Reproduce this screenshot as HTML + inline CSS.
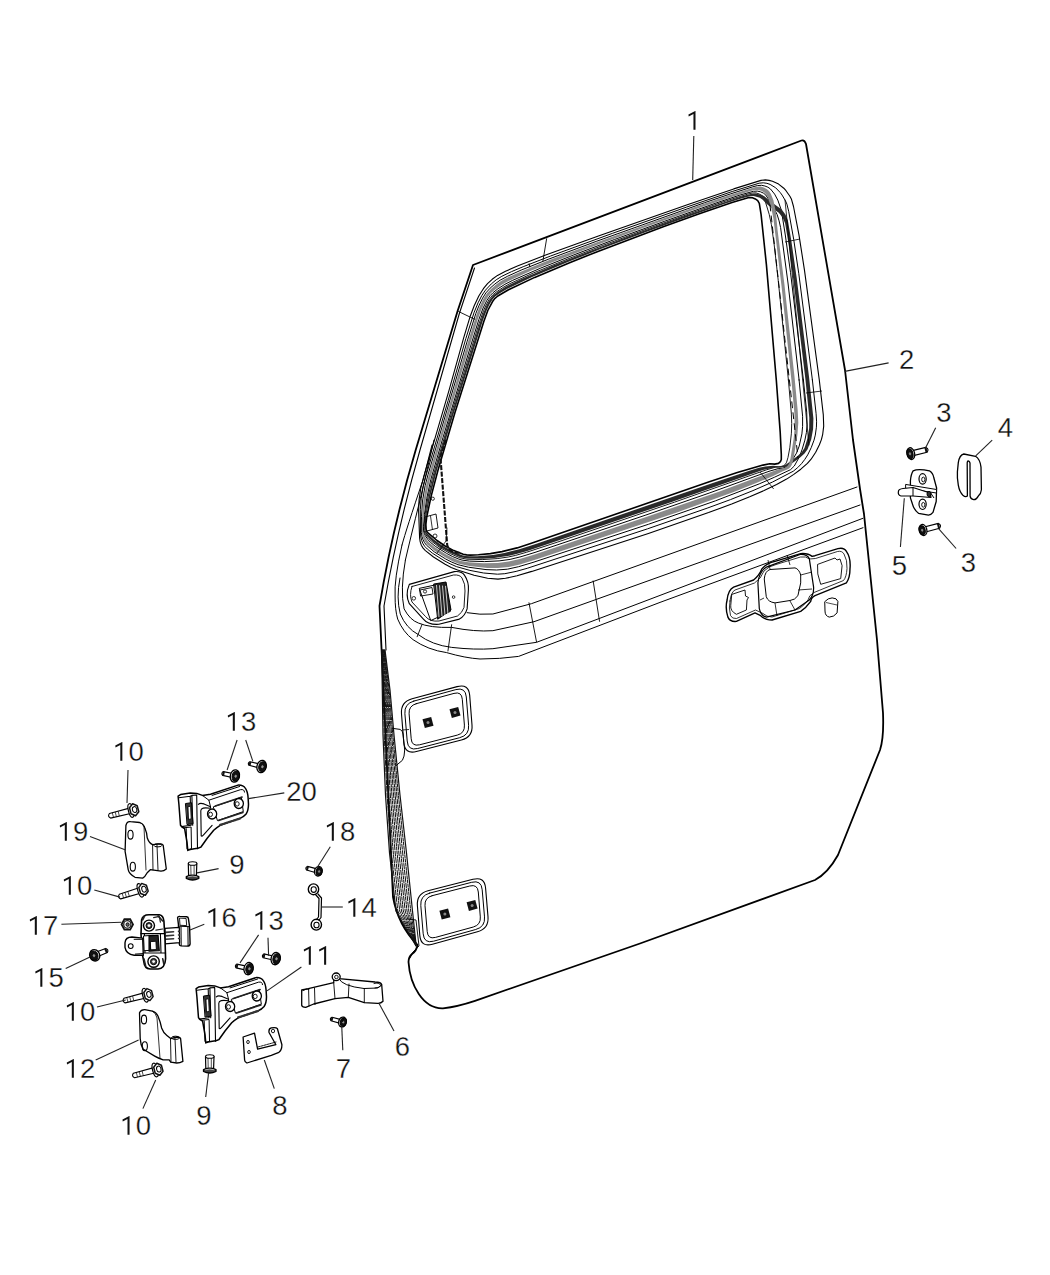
<!DOCTYPE html>
<html><head><meta charset="utf-8"><style>
html,body{margin:0;padding:0;background:#fff;}
svg{display:block;}
text{font-family:"Liberation Sans",sans-serif;fill:#111;stroke:#fff;stroke-width:0.3px;}
</style></head><body>
<svg width="1050" height="1275" viewBox="0 0 1050 1275">
<path d="M473,265 L801.5,140.5 Q804.5,139.5 806,144 L845,370 L853,440 L860,489 L864,514 L877,640 L883,713 Q884,738 880,750 L838,855 Q828,873 815,880 L640,943.5 L475,1000.8 Q458,1006.5 443,1008.3 C423,1009 410,985 408.5,962 Q408.5,957 412,954 Q416.5,951 417.5,945 Q398,925 393,897 L381.6,650 L379.5,606 Q392,530 415.7,450 L457.6,311 Z" stroke="#000" stroke-width="1.8" fill="none" stroke-linejoin="round" stroke-linecap="round" />
<path d="M474.5,268 L459.5,313 L420,450 Q397,530 384,606 L386,650" stroke="#000" stroke-width="1.1" fill="none" stroke-linejoin="round" stroke-linecap="round" />
<line x1="458.3" y1="311.4" x2="475.8" y2="319.8" stroke="#000" stroke-width="0.9"/>
<path d="M776.3,380.0 L780.2,432.1 L781.3,454.4 L781.3,459.5 L780.4,461.7 L778.5,463.4 L774.8,464.1 L769.7,463.8 L763.0,465.1 L737.3,472.5 L709.3,481.8 L531.4,543.3 L517.1,547.9 L502.0,551.6 L490.4,553.6 L478.4,554.8 L470.4,555.1 L466.6,554.9 L463.2,554.2 L453.8,550.6 L445.1,546.0 L437.0,540.5 L427.1,532.1 L425.9,529.0 L425.8,525.0 L426.8,516.5 L431.3,495.6 L438.1,469.7 L454.9,412.8 L483.8,321.5 L487.8,310.5 L492.4,301.8 L494.7,298.6 L497.8,296.0 L508.5,289.7 L534.7,277.4 L569.6,262.7 L597.9,251.4 L663.2,226.7 L699.3,213.7 L732.0,202.5 L748.9,197.6 L752.5,197.7 L755.3,198.9 L757.7,200.6 L759.3,203.3 L761.1,214.7 L766.4,264.6 L776.3,380.0Z" stroke="#000" stroke-width="1.6" fill="none" stroke-linejoin="round" stroke-linecap="round" />
<path d="M788.4,380.0 L791.4,414.1 L791.7,423.6 L791.4,433.2 L789.8,447.8 L788.0,457.4 L786.6,462.2 L785.4,464.3 L783.3,465.9 L780.0,466.9 L775.6,467.1 L766.5,469.8 L674.4,502.2 L557.8,542.0 L526.4,552.3 L515.6,555.4 L508.3,557.0 L497.2,558.6 L482.2,559.6 L467.0,559.2 L459.9,557.8 L450.7,553.8 L439.2,547.1 L431.4,541.1 L429.0,538.8 L425.1,533.7 L424.1,530.3 L424.1,526.3 L425.2,513.9 L427.9,497.7 L432.3,478.8 L451.4,413.5 L479.0,323.7 L483.6,310.5 L486.1,305.0 L489.0,299.7 L492.7,294.9 L495.9,292.3 L502.8,287.6 L510.0,283.6 L533.3,273.0 L568.0,258.9 L602.3,245.6 L648.1,228.6 L701.3,209.5 L726.6,200.7 L747.8,194.1 L752.2,193.0 L756.0,192.9 L759.0,193.9 L761.7,195.4 L763.8,197.6 L765.1,200.8 L769.2,214.3 L771.4,224.6 L774.2,244.8 L778.2,280.2 L788.4,380.0Z" stroke="#000" stroke-width="0.9" fill="none" stroke-linejoin="round" stroke-linecap="round" />
<path d="M799.1,380.0 L802.6,416.3 L802.6,426.4 L801.9,433.9 L799.2,446.1 L796.5,453.1 L790.0,463.8 L788.2,465.7 L785.8,467.2 L782.5,468.2 L778.2,468.6 L769.0,471.3 L709.1,493.1 L645.1,515.3 L535.0,552.4 L521.0,556.7 L510.1,559.4 L499.1,560.9 L484.4,561.6 L469.4,561.1 L462.1,560.1 L458.8,559.1 L452.5,556.5 L446.6,553.4 L435.3,546.3 L430.2,542.1 L428.0,539.7 L424.3,534.3 L423.5,530.8 L423.4,526.8 L424.4,514.5 L426.7,498.5 L430.8,479.5 L443.0,437.5 L470.0,348.1 L478.9,319.4 L483.1,308.0 L486.7,300.7 L490.1,295.6 L493.0,292.7 L497.9,288.8 L504.9,284.3 L512.3,280.5 L540.9,268.0 L573.9,254.9 L614.5,239.5 L664.8,221.2 L716.1,203.0 L740.1,195.0 L753.4,191.3 L757.3,191.1 L760.5,191.8 L763.4,193.1 L765.8,195.0 L772.7,205.9 L777.1,214.5 L779.1,220.9 L780.6,227.6 L788.0,283.0 L799.1,380.0Z" stroke="#000" stroke-width="1.0" fill="none" stroke-linejoin="round" stroke-linecap="round" />
<path d="M803.4,380.0 L806.7,412.1 L807.1,424.9 L806.4,432.6 L804.9,440.1 L802.0,449.8 L799.3,457.0 L794.3,466.0 L790.5,469.7 L774.3,477.3 L759.2,483.9 L715.3,500.9 L648.7,524.2 L533.0,562.4 L518.6,566.7 L507.4,569.2 L496.6,570.0 L486.0,569.6 L468.4,567.2 L458.1,564.7 L451.7,562.1 L445.7,559.0 L434.2,551.8 L426.5,545.2 L424.5,542.6 L423.0,539.6 L421.9,536.2 L421.4,532.4 L421.5,516.4 L422.5,501.0 L425.1,485.8 L428.0,474.7 L467.2,341.2 L475.8,313.5 L478.9,305.8 L482.6,298.2 L485.9,292.9 L490.1,288.2 L494.9,284.0 L500.1,280.2 L507.7,276.2 L521.1,270.1 L548.2,259.3 L596.2,241.4 L704.6,202.7 L730.8,193.8 L752.8,186.8 L757.4,185.6 L761.5,185.3 L764.9,186.0 L767.9,187.2 L770.5,189.0 L774.6,194.1 L777.8,200.1 L781.3,210.0 L785.3,235.0 L790.5,272.4 L803.4,380.0Z" stroke="#000" stroke-width="1.0" fill="none" stroke-linejoin="round" stroke-linecap="round" />
<path d="M812.4,380.0 L816.1,413.7 L816.6,421.8 L816.4,427.2 L815.3,435.1 L814.0,440.2 L811.2,447.7 L807.7,454.9 L804.8,459.4 L801.5,463.7 L797.7,467.6 L793.3,471.2 L772.6,482.0 L753.0,490.6 L730.5,499.6 L707.9,507.9 L647.6,528.8 L527.2,568.3 L516.1,571.4 L504.8,573.7 L497.5,574.2 L483.6,573.0 L469.9,570.4 L456.4,566.6 L450.1,563.8 L444.0,560.6 L432.6,553.3 L427.3,549.0 L424.9,546.6 L423.0,543.8 L421.7,540.6 L420.8,537.0 L420.5,533.1 L420.3,509.7 L421.2,498.3 L423.1,486.9 L426.0,475.7 L448.2,400.3 L465.8,338.7 L474.0,312.7 L478.0,302.9 L481.9,295.4 L485.5,290.1 L491.3,283.9 L496.2,279.8 L501.8,276.3 L511.6,271.6 L523.2,266.7 L550.6,256.0 L612.3,233.4 L686.3,207.2 L732.2,191.5 L759.1,183.2 L763.3,182.8 L766.9,183.3 L770.1,184.4 L775.7,187.8 L780.2,192.5 L782.1,195.1 L785.5,200.9 L786.9,204.1 L788.7,211.3 L793.7,239.3 L798.8,273.7 L812.4,380.0Z" stroke="#000" stroke-width="1.0" fill="none" stroke-linejoin="round" stroke-linecap="round" />
<path d="M819.3,380.0 L823.3,414.9 L823.7,426.1 L822.7,434.3 L821.4,439.6 L819.4,444.8 L815.7,452.2 L811.1,459.2 L807.4,463.4 L800.8,469.2 L793.8,474.4 L786.6,479.1 L776.6,484.6 L764.1,490.6 L749.7,496.8 L731.7,504.0 L708.6,512.6 L648.4,533.4 L531.8,571.4 L517.0,575.8 L505.5,578.3 L498.0,579.1 L487.6,578.2 L474.1,575.3 L457.6,570.1 L451.2,567.4 L445.1,564.3 L433.5,557.0 L425.4,550.6 L423.1,548.1 L421.3,545.2 L420.2,541.8 L419.6,538.0 L418.6,510.8 L419.1,499.5 L420.8,488.1 L423.7,476.8 L448.8,391.2 L463.6,338.1 L470.4,315.7 L474.2,305.7 L478.8,296.0 L483.4,288.7 L487.5,283.7 L492.2,279.3 L497.5,275.4 L505.5,271.3 L517.4,266.1 L545.7,255.1 L599.1,235.8 L687.3,204.7 L733.7,188.9 L761.0,180.4 L765.3,179.9 L769.1,180.4 L772.5,181.3 L778.6,184.1 L783.8,188.2 L786.0,190.7 L789.9,196.2 L791.5,199.3 L793.5,206.5 L799.0,235.1 L804.5,270.3 L819.3,380.0Z" stroke="#000" stroke-width="1.1" fill="none" stroke-linejoin="round" stroke-linecap="round" />
<path d="M805.5,380.0 L809.3,417.7 L809.2,428.0 L807.5,438.2 L804.5,448.1 L801.5,452.4 L797.3,456.2 L786.0,464.6 L782.9,465.7 L778.7,466.2 L773.1,465.8 L765.3,466.4 L759.1,467.8 L748.7,471.0 L712.8,483.0 L536.6,543.7 L519.3,549.3 L504.4,553.0 L492.9,554.9 L477.3,556.2 L469.4,556.3 L465.6,556.0 L462.2,555.2 L452.9,551.5 L441.4,545.1 L433.5,539.3 L426.5,532.6 L425.3,529.4 L425.3,525.4 L426.9,512.7 L430.3,496.3 L436.9,470.3 L450.0,425.6 L482.7,321.0 L486.1,311.7 L489.4,304.6 L492.5,299.6 L495.1,296.6 L500.2,293.0 L507.4,288.8 L532.1,277.1 L569.1,261.6 L599.3,249.6 L645.4,232.2 L684.7,217.9 L724.8,203.8 L741.2,198.6 L749.9,196.2 L753.7,196.0 L759.8,197.8 L762.4,199.4 L766.6,203.8 L768.9,205.7 L778.8,212.7 L782.6,217.4 L785.1,223.3 L788.5,243.6 L793.4,279.9 L805.5,380.0Z M809.1,377.5 L796.7,278.0 L791.4,241.2 L787.9,220.6 L785.4,214.6 L781.7,209.6 L769.2,200.5 L764.7,196.5 L762.0,195.0 L755.6,193.4 L751.7,193.7 L742.9,196.0 L726.3,201.4 L682.7,216.6 L631.4,235.3 L587.5,251.9 L553.7,265.2 L521.5,278.9 L505.2,287.0 L498.1,291.5 L493.2,295.3 L489.5,300.0 L486.6,305.3 L482.7,314.5 L479.5,324.0 L448.0,426.1 L433.8,474.9 L428.4,497.4 L425.6,513.6 L424.3,526.1 L424.4,530.1 L425.4,533.4 L429.5,538.5 L431.8,540.7 L439.6,546.7 L451.1,553.3 L460.4,557.2 L467.5,558.6 L482.8,558.8 L494.2,558.0 L509.1,555.8 L516.4,554.1 L527.2,551.0 L558.3,540.6 L672.3,501.7 L762.8,470.1 L772.3,467.9 L776.2,467.5 L781.3,467.6 L785.3,467.0 L788.3,465.7 L790.7,464.2 L800.1,457.4 L804.5,453.6 L807.6,449.2 L811.2,439.4 L813.1,429.0 L813.4,418.5 L809.1,377.5Z" fill="#2a2a2a" fill-rule="evenodd" stroke="none"/>
<path d="M791.4,380.0 L794.5,414.7 L794.6,429.2 L793.6,438.9 L790.5,458.6 L789.1,463.4 L787.8,465.5 L785.8,467.2 L782.8,468.4 L779.0,469.0 L720.2,491.2 L645.4,517.3 L533.8,554.8 L519.7,559.0 L508.7,561.6 L497.8,562.9 L483.2,563.2 L468.4,562.2 L461.2,561.0 L457.9,560.0 L451.7,557.3 L445.7,554.3 L434.5,547.0 L429.4,542.7 L427.2,540.3 L423.8,534.7 L423.0,531.1 L423.0,527.1 L424.2,510.8 L426.5,495.1 L429.8,480.1 L442.0,437.8 L470.2,344.0 L477.9,319.0 L481.4,309.4 L484.9,302.0 L488.0,296.7 L490.5,293.5 L495.2,289.4 L502.1,284.5 L507.6,281.4 L531.4,270.6 L562.0,258.4 L600.3,243.8 L648.5,226.1 L702.6,206.8 L728.3,198.0 L749.8,191.2 L754.2,190.1 L758.1,189.9 L761.3,190.8 L764.0,192.3 L766.2,194.5 L767.8,197.5 L771.2,207.6 L773.4,218.4 L781.6,286.7 L791.4,380.0Z M794.6,377.7 L784.5,285.0 L777.6,230.5 L775.8,211.4 L773.4,200.3 L770.8,193.8 L769.0,191.0 L766.7,188.9 L763.8,187.4 L760.5,186.6 L756.5,186.8 L752.0,188.0 L730.1,194.9 L704.0,203.8 L596.4,242.4 L548.8,260.3 L520.1,271.9 L508.7,277.1 L501.1,281.1 L495.9,284.8 L491.1,288.9 L486.8,293.5 L483.4,298.8 L479.8,306.2 L476.7,314.0 L468.1,341.4 L429.0,474.2 L426.2,485.3 L423.4,500.5 L421.9,520.0 L421.8,532.1 L422.4,535.8 L423.6,539.0 L425.2,542.0 L427.3,544.6 L435.0,551.0 L446.5,558.1 L452.5,561.2 L458.9,563.7 L469.4,565.9 L487.2,567.9 L497.9,568.0 L508.8,567.0 L519.9,564.4 L537.5,559.0 L676.9,512.4 L732.4,492.4 L755.0,483.6 L772.6,476.3 L782.8,471.2 L786.0,470.1 L788.6,468.7 L790.5,466.9 L791.8,464.7 L793.3,459.9 L797.4,435.1 L798.3,422.8 L797.7,410.5 L794.6,377.7Z" fill="#8a8a8a" fill-rule="evenodd" stroke="none"/>
<path d="M445.7,440 L440.4,456.8 L447.2,545 Q449,553 461,552.8" stroke="#111" stroke-width="2.1" fill="none" stroke-linejoin="round" stroke-dasharray="5 1.5" stroke-linecap="butt"/>
<path d="M770,205 L798,458" stroke="#000" stroke-width="1.0" fill="none" stroke-linejoin="round" stroke-linecap="round" stroke-dasharray="6 5"/>
<path d="M785,200 L809,445" stroke="#000" stroke-width="0.8" fill="none" stroke-linejoin="round" stroke-linecap="round" />
<line x1="546.7" y1="238.3" x2="542.9" y2="261.1" stroke="#000" stroke-width="0.9"/>
<line x1="529.1" y1="263.4" x2="529.9" y2="267.2" stroke="#000" stroke-width="0.9"/>
<line x1="785" y1="242" x2="800" y2="239" stroke="#000" stroke-width="0.8"/>
<line x1="806" y1="393" x2="822" y2="391" stroke="#000" stroke-width="0.8"/>
<line x1="760" y1="472" x2="773.7" y2="489" stroke="#000" stroke-width="0.8"/>
<path d="M425,517 L436,514 L438,528 L427,531 Z" stroke="#000" stroke-width="0.9" fill="none" stroke-linejoin="round" stroke-linecap="round" />
<line x1="430.5" y1="516" x2="432.5" y2="530" stroke="#000" stroke-width="0.8"/>
<circle cx="432.8" cy="498.7" r="1.6" fill="none" stroke="#000" stroke-width="0.8"/>
<circle cx="435" cy="536" r="2" fill="none" stroke="#000" stroke-width="0.8"/>
<path d="M437,553 L446,541 L447,528" stroke="#000" stroke-width="0.8" fill="none" stroke-linejoin="round" stroke-linecap="round" />
<path d="M467.1,612.7 Q480,615 492.9,614 L531.4,603.7 L857,487" stroke="#000" stroke-width="1.0" fill="none" stroke-linejoin="round" stroke-linecap="round" />
<path d="M405.4,560 Q400,590 404.1,608.9 Q410,620 418.3,623 Q430,628 451.7,627.4 Q475,632 492.9,630.7 L534,621.7 L860,505" stroke="#000" stroke-width="1.0" fill="none" stroke-linejoin="round" stroke-linecap="round" />
<path d="M400,578 Q396,598 400.3,614 Q406,628 418.3,634.6 Q432,645 451.7,647.4 Q475,650 492.9,648.7 L536.6,642.3 L862.9,518.3" stroke="#000" stroke-width="1.0" fill="none" stroke-linejoin="round" stroke-linecap="round" />
<path d="M402,545 Q394,580 395.1,596 Q395,610 397.7,619.1 Q403,632 413.1,639.7 Q428,650 446.6,652.6 Q465,658 480,659 Q500,659 518.6,656.4 L660,602.4 L863,527.7" stroke="#000" stroke-width="1.0" fill="none" stroke-linejoin="round" stroke-linecap="round" />
<line x1="528.9" y1="602.4" x2="536.6" y2="642.3" stroke="#000" stroke-width="0.9"/>
<line x1="593.1" y1="580.6" x2="599.6" y2="621.7" stroke="#000" stroke-width="0.9"/>
<line x1="451.7" y1="624.3" x2="447.9" y2="651.3" stroke="#000" stroke-width="0.9"/>
<line x1="422.1" y1="624.3" x2="417" y2="637.1" stroke="#000" stroke-width="0.9"/>
<path d="M434,440 L420,500 Q410,540 405.4,560" stroke="#000" stroke-width="1.0" fill="none" stroke-linejoin="round" stroke-linecap="round" />
<path d="M432,445 L423,480 Q406,530 402,545" stroke="#000" stroke-width="1.0" fill="none" stroke-linejoin="round" stroke-linecap="round" />
<path d="M409.3,584.4 L454.3,571.6 Q462,571 464.6,575.4 Q469,582 468.4,590 L467.1,608.9 Q465,616 459.4,619.1 L438.9,624.3 Q428,625 423.4,619.1 L409.3,603.7 Q405,595 409.3,584.4Z" stroke="#000" stroke-width="1.1" fill="none" stroke-linejoin="round" stroke-linecap="round" />
<path d="M412,586.5 L453.5,575 Q460,574.5 462,578 Q465.5,584 465,591 L464,607.5 Q462,613 457.5,616 L439,621 Q430,622 425.5,616.5 L412,602 Q409,595 412,586.5Z" stroke="#000" stroke-width="0.9" fill="none" stroke-linejoin="round" stroke-linecap="round" />
<path d="M419.6,588.3 L444,583.1 L450.4,611.4 L431.1,620.4 Z" stroke="#000" stroke-width="1.0" fill="none" stroke-linejoin="round" stroke-linecap="round" />
<path d="M434,584 L446,582 L451,610 L438,619 Z" stroke="#000" stroke-width="1.0" fill="#222" stroke-linejoin="round" stroke-linecap="round" />
<line x1="436.5" y1="585.0" x2="439.0" y2="617.0" stroke="#ddd" stroke-width="0.9"/>
<line x1="439.5" y1="585.3" x2="442.0" y2="616.2" stroke="#ddd" stroke-width="0.9"/>
<line x1="442.5" y1="585.6" x2="445.0" y2="615.4" stroke="#ddd" stroke-width="0.9"/>
<line x1="445.5" y1="585.9" x2="448.0" y2="614.6" stroke="#ddd" stroke-width="0.9"/>
<path d="M420,590 L432,587.5 L433,594 L421,596 Z" stroke="#000" stroke-width="0.9" fill="none" stroke-linejoin="round" stroke-linecap="round" />
<circle cx="425" cy="591.5" r="1.6" fill="none" stroke="#000" stroke-width="0.8"/>
<circle cx="413.8" cy="598.3" r="1.8" fill="none" stroke="#000" stroke-width="0.8"/>
<circle cx="453.6" cy="597.1" r="1.3" fill="none" stroke="#000" stroke-width="0.8"/>
<path d="M727.1,600 Q728,590 733.6,587.1 L753.6,580 Q759,576 762.1,568.6 Q767,563 775,561.4 L800.7,553.6 Q808,553 812.1,556.4 L815,555.7 L837.9,548.6 Q844,547 846.4,551.4 Q851,558 850,568.6 Q850,578 846.4,582.9 L815,595.7 Q811,598 810.7,601.4 Q806,608 800.7,611.4 L772.1,620 Q765,620 760.7,615.7 L755,612.9 L736.4,621.4 Q730,622 727.9,617.1 Q725,608 727.1,600Z" stroke="#000" stroke-width="1.4" fill="none" stroke-linejoin="round" stroke-linecap="round" />
<path d="M730,601 Q731,592 735,590 L754.5,583 Q761,579 764,571 Q769,566 776,564.5 L800.5,557 Q806,556 809.5,559 L815.5,558.5 L837.5,551.5 Q842,550.5 844,554 Q847.5,560 847,568.5 Q846.5,577 843.5,580.5 L814,592.5 Q808.5,595.5 808,600 Q804,605.5 799.5,608.5 L772,617 Q766.5,617 763,613.5 L755.5,610 L736.5,618.5 Q732,619 730.5,615.5 Q728.5,608 730,601Z" stroke="#000" stroke-width="0.8" fill="none" stroke-linejoin="round" stroke-linecap="round" />
<path d="M757.9,582.9 Q759,572 766.4,567.1 L800.7,554.3 Q807,554 809.3,558.6 L813.6,587.1 Q814,595 809.3,600 L795,610 L766.4,617.1 Q761,616 759.3,608.6 Z" stroke="#000" stroke-width="1.2" fill="none" stroke-linejoin="round" stroke-linecap="round" />
<path d="M764.3,578.6 Q765,571 770,569.5 L795,567.9 Q799,569 800.7,575 L800.7,582.9 L797.9,595.7 Q795,600 790,600.5 L775,602.9 Q768,602 766.4,597.1 Z" stroke="#000" stroke-width="1.0" fill="none" stroke-linejoin="round" stroke-linecap="round" />
<line x1="770" y1="569" x2="768" y2="560" stroke="#000" stroke-width="0.8"/>
<line x1="790" y1="565" x2="787" y2="555" stroke="#000" stroke-width="0.8"/>
<line x1="800.7" y1="575" x2="812" y2="572" stroke="#000" stroke-width="0.8"/>
<line x1="798" y1="590" x2="812" y2="589" stroke="#000" stroke-width="0.8"/>
<line x1="790" y1="601" x2="795" y2="610" stroke="#000" stroke-width="0.8"/>
<line x1="775" y1="603" x2="777" y2="616" stroke="#000" stroke-width="0.8"/>
<line x1="764" y1="598" x2="760" y2="600" stroke="#000" stroke-width="0.8"/>
<path d="M732.1,594.3 L745,590 L745.5,596 L748.5,597.5 L747,600 L746.4,610 L736.4,614.3 Q730,611 730.7,605.7 Z" stroke="#000" stroke-width="0.9" fill="none" stroke-linejoin="round" stroke-linecap="round" />
<path d="M817.9,564.3 L835,558 L837,560 L840,559 L842.1,565.7 L840.7,578.6 L820.7,584.3 L817.9,574.3 Z" stroke="#000" stroke-width="0.9" fill="none" stroke-linejoin="round" stroke-linecap="round" />
<path d="M825,601.4 Q828,598 832.1,597.9 Q837,598 837.9,601.4 L837.1,612.9 Q834,617 829.3,617.1 Q825,616 825,611.4 Z" stroke="#000" stroke-width="1.0" fill="none" stroke-linejoin="round" stroke-linecap="round" />
<line x1="826" y1="602.5" x2="837" y2="605" stroke="#000" stroke-width="0.7"/>
<path d="M381.6,650.0 382.3,690.0 383.0,735.0 385.5,795.0 389.5,853.0 396.0,911.0 416.0,946.0" stroke="#111" stroke-width="1.2" fill="none" stroke-linejoin="round" stroke-linecap="round" />
<path d="M382.0,650.0 383.2,690.0 384.2,735.0 387.1,795.0 391.4,853.0 397.8,911.0 416.0,945.8" stroke="#111" stroke-width="1.0" fill="none" stroke-linejoin="round" stroke-linecap="round" stroke-dasharray="5 1.5"/>
<path d="M382.4,650.0 384.0,690.0 385.4,735.0 388.7,795.0 393.3,853.0 399.7,911.0 416.0,945.6" stroke="#111" stroke-width="1.0" fill="none" stroke-linejoin="round" stroke-linecap="round" stroke-dasharray="3 1.2"/>
<path d="M382.7,650.0 384.9,690.0 386.7,735.0 390.3,795.0 395.2,853.0 401.5,911.0 416.0,945.3" stroke="#111" stroke-width="1.0" fill="none" stroke-linejoin="round" stroke-linecap="round" stroke-dasharray="5 1.5"/>
<path d="M383.1,650.0 385.7,690.0 387.9,735.0 391.9,795.0 397.1,853.0 403.3,911.0 416.0,945.1" stroke="#111" stroke-width="1.0" fill="none" stroke-linejoin="round" stroke-linecap="round" stroke-dasharray="3 1.2"/>
<path d="M383.5,650.0 386.6,690.0 389.1,735.0 393.6,795.0 398.9,853.0 405.2,911.0 416.0,944.9" stroke="#111" stroke-width="1.0" fill="none" stroke-linejoin="round" stroke-linecap="round" stroke-dasharray="5 1.5"/>
<path d="M383.9,650.0 387.4,690.0 390.3,735.0 395.2,795.0 400.8,853.0 407.0,911.0 416.0,944.7" stroke="#111" stroke-width="1.0" fill="none" stroke-linejoin="round" stroke-linecap="round" stroke-dasharray="3 1.2"/>
<path d="M384.2,650.0 388.3,690.0 391.6,735.0 396.8,795.0 402.7,853.0 408.8,911.0 416.0,944.4" stroke="#111" stroke-width="1.0" fill="none" stroke-linejoin="round" stroke-linecap="round" stroke-dasharray="5 1.5"/>
<path d="M384.6,650.0 389.1,690.0 392.8,735.0 398.4,795.0 404.6,853.0 410.7,911.0 416.0,944.2" stroke="#111" stroke-width="1.0" fill="none" stroke-linejoin="round" stroke-linecap="round" stroke-dasharray="3 1.2"/>
<path d="M385.0,650.0 390.0,690.0 394.0,735.0 400.0,795.0 406.5,853.0 412.5,911.0 416.0,944.0" stroke="#111" stroke-width="1.2" fill="none" stroke-linejoin="round" stroke-linecap="round" />
<path d="M412.1,698.8 L457.1,686.6 Q468.7,683.4 469.7,695.4 L472.0,725.0 Q473.0,737.0 461.4,740.0 L416.4,751.5 Q404.8,754.5 403.8,742.5 L401.5,714.0 Q400.5,702.0 412.1,698.8Z" stroke="#000" stroke-width="1.1" fill="none" stroke-linejoin="round" stroke-linecap="round" />
<path d="M413.8,701.1 L455.9,689.6 Q465.5,687.0 466.3,697.0 L468.6,725.3 Q469.4,735.2 459.7,737.7 L417.7,748.5 Q408.0,751.0 407.2,741.0 L404.9,713.7 Q404.1,703.7 413.8,701.1Z" stroke="#000" stroke-width="1.0" fill="none" stroke-linejoin="round" stroke-linecap="round" />
<path d="M416.2,703.7 L454.0,693.4 Q461.7,691.3 462.3,699.3 L464.4,725.1 Q465.0,733.1 457.3,735.1 L419.6,744.8 Q411.8,746.7 411.2,738.8 L409.1,713.8 Q408.5,705.8 416.2,703.7Z" stroke="#000" stroke-width="1.0" fill="none" stroke-linejoin="round" stroke-linecap="round" />
<rect x="423.5" y="718.0" width="9" height="9" fill="#111" transform="rotate(-15 428 722.5)"/>
<circle cx="428" cy="722.5" r="1.5" fill="#888"/>
<rect x="450.5" y="707.9" width="9" height="9" fill="#111" transform="rotate(-15 455 712.4)"/>
<circle cx="455" cy="712.4" r="1.5" fill="#888"/>
<path d="M428.0,890.8 L473.0,879.3 Q484.6,876.3 485.6,888.3 L488.0,916.6 Q489.0,928.6 477.4,931.8 L432.4,944.2 Q420.8,947.4 419.8,935.4 L417.4,905.8 Q416.4,893.8 428.0,890.8Z" stroke="#000" stroke-width="1.1" fill="none" stroke-linejoin="round" stroke-linecap="round" />
<path d="M429.7,893.1 L471.7,882.3 Q481.4,879.8 482.2,889.8 L484.5,916.9 Q485.4,926.9 475.7,929.5 L433.6,941.2 Q424.0,943.8 423.2,933.8 L420.8,905.5 Q420.0,895.6 429.7,893.1Z" stroke="#000" stroke-width="1.0" fill="none" stroke-linejoin="round" stroke-linecap="round" />
<path d="M432.1,895.7 L469.8,886.0 Q477.6,884.0 478.3,892.0 L480.3,916.9 Q481.0,924.8 473.3,927.0 L435.5,937.4 Q427.8,939.5 427.2,931.5 L425.0,905.7 Q424.4,897.7 432.1,895.7Z" stroke="#000" stroke-width="1.0" fill="none" stroke-linejoin="round" stroke-linecap="round" />
<rect x="440.4" y="909.5" width="9" height="9" fill="#111" transform="rotate(-15 444.9 914)"/>
<circle cx="444.9" cy="914" r="1.5" fill="#888"/>
<rect x="467.6" y="900.9" width="9" height="9" fill="#111" transform="rotate(-15 472.1 905.4)"/>
<circle cx="472.1" cy="905.4" r="1.5" fill="#888"/>
<path d="M392.1,728.3 L400.1,729.4 Q403,731 403,734 L404.7,750 Q404.5,757 402.4,760.3 L395.6,766" stroke="#000" stroke-width="1.0" fill="none" stroke-linejoin="round" stroke-linecap="round" />
<line x1="402" y1="730" x2="409" y2="729.5" stroke="#000" stroke-width="0.8"/>
<path d="M408,919 L416,920 L419,946 L413,952 L410,958" stroke="#000" stroke-width="0.9" fill="none" stroke-linejoin="round" stroke-linecap="round" />
<path d="M911.4,456.1 L927.1,452.2 Q929.4,449.1 925.9,447.4 L910.2,451.1" stroke="#000" stroke-width="1.1" fill="#fff" stroke-linejoin="round" stroke-linecap="round" />
<line x1="925.0" y1="450.2" x2="927.0" y2="449.7" stroke="#111" stroke-width="5.2"/>
<ellipse cx="910.8" cy="453.6" rx="3.8" ry="6.0" fill="#fff" stroke="#000" stroke-width="1.3" transform="rotate(-13.606103054249312 910.8 453.6)"/>
<ellipse cx="910.0" cy="453.8" rx="2.964" ry="4.92" fill="#111" stroke="#000" stroke-width="1.0" transform="rotate(-13.606103054249312 910.0 453.8)"/>
<ellipse cx="910.0" cy="453.8" rx="0.76" ry="1.2000000000000002" fill="#999" stroke="#999" stroke-width="0.5" transform="rotate(-13.606103054249312 910.0 453.8)"/>
<path d="M923.7,532.5 L939.6,528.2 Q941.9,525.0 938.4,523.4 L922.3,527.5" stroke="#000" stroke-width="1.1" fill="#fff" stroke-linejoin="round" stroke-linecap="round" />
<line x1="937.5" y1="526.2" x2="939.5" y2="525.7" stroke="#111" stroke-width="5.2"/>
<ellipse cx="923.0" cy="530.0" rx="3.8" ry="5.6" fill="#fff" stroke="#000" stroke-width="1.3" transform="rotate(-14.7083038996829 923.0 530.0)"/>
<ellipse cx="922.2" cy="530.2" rx="2.964" ry="4.592" fill="#111" stroke="#000" stroke-width="1.0" transform="rotate(-14.7083038996829 922.2 530.2)"/>
<ellipse cx="922.2" cy="530.2" rx="0.76" ry="1.1199999999999999" fill="#999" stroke="#999" stroke-width="0.5" transform="rotate(-14.7083038996829 922.2 530.2)"/>
<path d="M958.3,462.6 Q959.5,455 963.8,454 L975.5,456.3 Q980,459 981,467.1 L981.4,489.8 Q981,494 978.3,496.1 Q976,500 973.7,499.7 Q970.5,499 970.1,496.1 L970,463 Q969,460.5 967.8,461 Q967,462 967.2,464 L967.4,496 Q965.5,497.5 962.9,495.2 Q959.5,492 958.3,485.2 Q957,478 957.4,471.7 Z" stroke="#000" stroke-width="1.3" fill="none" stroke-linejoin="round" stroke-linecap="round" />
<path d="M913.1,470.8 Q918,468.5 929.4,470.8 Q933,473 933.9,478 L936.6,488 L936.2,501.5 L933,512.4 Q931,515 928.5,515.1 L918.5,513.3 Q914,510 912.2,503.3 L910.4,497.9 L910.4,480.7 Q911,474 913.1,470.8Z" stroke="#000" stroke-width="1.3" fill="#fff" stroke-linejoin="round" stroke-linecap="round" />
<ellipse cx="922.6" cy="478.9" rx="3.6" ry="5.2" fill="none" stroke="#000" stroke-width="1.2" transform="rotate(0 922.6 478.9)"/>
<ellipse cx="923.3" cy="479.5" rx="1.6" ry="2.4" fill="none" stroke="#000" stroke-width="0.9" transform="rotate(0 923.3 479.5)"/>
<ellipse cx="922.6" cy="504.3" rx="3.6" ry="5.2" fill="none" stroke="#000" stroke-width="1.2" transform="rotate(0 922.6 504.3)"/>
<ellipse cx="923.3" cy="504.8" rx="1.6" ry="2.4" fill="none" stroke="#000" stroke-width="0.9" transform="rotate(0 923.3 504.8)"/>
<path d="M906,484.5 L936.5,489.5 L936.5,493 L906,488.5 Z" stroke="#000" stroke-width="1.0" fill="#fff" stroke-linejoin="round" stroke-linecap="round" />
<path d="M898.5,491 Q899,489 903,488.5 L913,487.5 L930,493 L931,497.5 L913,496 L901,496 Q897.5,495 898.5,491Z" stroke="#000" stroke-width="1.2" fill="#fff" stroke-linejoin="round" stroke-linecap="round" />
<line x1="913" y1="487.5" x2="913" y2="496" stroke="#000" stroke-width="1.0"/>
<line x1="930" y1="492" x2="934" y2="498" stroke="#000" stroke-width="1.0"/>
<ellipse cx="929.0" cy="494.0" rx="2.0" ry="2.6" fill="#333" stroke="#000" stroke-width="1.0" transform="rotate(0 929.0 494.0)"/>
<path d="M131.3,807.6 L109.4,813.5 Q107.2,816.5 110.6,818.1 L132.7,813.0" stroke="#000" stroke-width="1.1" fill="#fff" stroke-linejoin="round" stroke-linecap="round" />
<line x1="112.3" y1="812.8" x2="113.5" y2="817.4" stroke="#000" stroke-width="0.7"/>
<line x1="115.2" y1="812.0" x2="116.4" y2="816.7" stroke="#000" stroke-width="0.7"/>
<line x1="118.2" y1="811.3" x2="119.3" y2="815.9" stroke="#000" stroke-width="0.7"/>
<ellipse cx="131.0" cy="810.5" rx="2.6" ry="7.0" fill="#fff" stroke="#000" stroke-width="1.2" transform="rotate(165.96375653207352 131.0 810.5)"/>
<path d="M129.5,807.7 L132.6,803.8 L137.2,805.8 L138.8,811.8 L135.6,815.8 L131.0,813.7Z" fill="#fff" stroke="#111" stroke-width="1.5" stroke-linejoin="round"/>
<ellipse cx="134.6" cy="809.6" rx="2.2" ry="3.0" fill="#fff" stroke="#000" stroke-width="1.0" transform="rotate(165.96375653207352 134.6 809.6)"/>
<path d="M140.6,887.3 L119.3,894.3 Q117.3,897.4 120.7,898.9 L142.2,892.7" stroke="#000" stroke-width="1.1" fill="#fff" stroke-linejoin="round" stroke-linecap="round" />
<line x1="122.2" y1="893.4" x2="123.6" y2="898.0" stroke="#000" stroke-width="0.7"/>
<line x1="125.0" y1="892.6" x2="126.4" y2="897.1" stroke="#000" stroke-width="0.7"/>
<line x1="127.9" y1="891.7" x2="129.3" y2="896.2" stroke="#000" stroke-width="0.7"/>
<ellipse cx="140.4" cy="890.3" rx="2.6" ry="7.0" fill="#fff" stroke="#000" stroke-width="1.2" transform="rotate(162.8596506952422 140.4 890.3)"/>
<path d="M138.8,887.6 L141.7,883.4 L146.4,885.2 L148.2,891.1 L145.3,895.3 L140.6,893.5Z" fill="#fff" stroke="#111" stroke-width="1.5" stroke-linejoin="round"/>
<ellipse cx="144.0" cy="889.2" rx="2.2" ry="3.0" fill="#fff" stroke="#000" stroke-width="1.0" transform="rotate(162.8596506952422 144.0 889.2)"/>
<path d="M145.6,992.4 L123.9,998.3 Q121.7,1001.3 125.1,1002.9 L147.0,997.8" stroke="#000" stroke-width="1.1" fill="#fff" stroke-linejoin="round" stroke-linecap="round" />
<line x1="126.8" y1="997.6" x2="128.0" y2="1002.2" stroke="#000" stroke-width="0.7"/>
<line x1="129.7" y1="996.8" x2="130.9" y2="1001.4" stroke="#000" stroke-width="0.7"/>
<line x1="132.6" y1="996.1" x2="133.8" y2="1000.7" stroke="#000" stroke-width="0.7"/>
<ellipse cx="145.3" cy="995.3" rx="2.6" ry="7.0" fill="#fff" stroke="#000" stroke-width="1.2" transform="rotate(165.84014123409446 145.3 995.3)"/>
<path d="M143.8,992.5 L146.9,988.6 L151.5,990.6 L153.1,996.6 L149.9,1000.6 L145.3,998.5Z" fill="#fff" stroke="#111" stroke-width="1.5" stroke-linejoin="round"/>
<ellipse cx="148.9" cy="994.4" rx="2.2" ry="3.0" fill="#fff" stroke="#000" stroke-width="1.0" transform="rotate(165.84014123409446 148.9 994.4)"/>
<path d="M155.5,1067.1 L133.4,1073.2 Q131.2,1076.2 134.6,1077.8 L156.9,1072.5" stroke="#000" stroke-width="1.1" fill="#fff" stroke-linejoin="round" stroke-linecap="round" />
<line x1="136.3" y1="1072.4" x2="137.5" y2="1077.1" stroke="#000" stroke-width="0.7"/>
<line x1="139.2" y1="1071.7" x2="140.4" y2="1076.3" stroke="#000" stroke-width="0.7"/>
<line x1="142.1" y1="1071.0" x2="143.3" y2="1075.6" stroke="#000" stroke-width="0.7"/>
<ellipse cx="155.2" cy="1070.0" rx="2.6" ry="7.0" fill="#fff" stroke="#000" stroke-width="1.2" transform="rotate(165.59997869320884 155.2 1070.0)"/>
<path d="M153.7,1067.2 L156.8,1063.2 L161.4,1065.3 L163.0,1071.3 L159.9,1075.3 L155.2,1073.2Z" fill="#fff" stroke="#111" stroke-width="1.5" stroke-linejoin="round"/>
<ellipse cx="158.8" cy="1069.1" rx="2.2" ry="3.0" fill="#fff" stroke="#000" stroke-width="1.0" transform="rotate(165.59997869320884 158.8 1069.1)"/>
<path d="M235.3,774.0 L223.4,771.6 Q220.8,773.0 222.6,775.4 L234.5,778.0" stroke="#000" stroke-width="1.1" fill="#fff" stroke-linejoin="round" stroke-linecap="round" />
<line x1="224.5" y1="773.8" x2="222.5" y2="773.4" stroke="#111" stroke-width="4.0"/>
<ellipse cx="234.9" cy="776.0" rx="4.6" ry="6.2" fill="#fff" stroke="#000" stroke-width="1.3" transform="rotate(-168.1356095487189 234.9 776.0)"/>
<ellipse cx="235.7" cy="776.2" rx="3.5879999999999996" ry="5.084" fill="#111" stroke="#000" stroke-width="1.0" transform="rotate(-168.1356095487189 235.7 776.2)"/>
<ellipse cx="235.7" cy="776.2" rx="0.9199999999999999" ry="1.2400000000000002" fill="#999" stroke="#999" stroke-width="0.5" transform="rotate(-168.1356095487189 235.7 776.2)"/>
<path d="M262.1,764.6 L250.0,761.7 Q247.3,763.0 249.0,765.3 L261.1,768.4" stroke="#000" stroke-width="1.1" fill="#fff" stroke-linejoin="round" stroke-linecap="round" />
<line x1="251.0" y1="763.9" x2="249.0" y2="763.4" stroke="#111" stroke-width="4.0"/>
<ellipse cx="261.6" cy="766.5" rx="4.6" ry="6.2" fill="#fff" stroke="#000" stroke-width="1.3" transform="rotate(-166.0752267795906 261.6 766.5)"/>
<ellipse cx="262.4" cy="766.7" rx="3.5879999999999996" ry="5.084" fill="#111" stroke="#000" stroke-width="1.0" transform="rotate(-166.0752267795906 262.4 766.7)"/>
<ellipse cx="262.4" cy="766.7" rx="0.9199999999999999" ry="1.2400000000000002" fill="#999" stroke="#999" stroke-width="0.5" transform="rotate(-166.0752267795906 262.4 766.7)"/>
<path d="M249.0,966.6 L236.9,964.1 Q234.3,965.5 236.1,967.9 L248.2,970.6" stroke="#000" stroke-width="1.1" fill="#fff" stroke-linejoin="round" stroke-linecap="round" />
<line x1="238.0" y1="966.3" x2="236.0" y2="965.9" stroke="#111" stroke-width="4.0"/>
<ellipse cx="248.6" cy="968.6" rx="4.6" ry="6.2" fill="#fff" stroke="#000" stroke-width="1.3" transform="rotate(-167.8729089650698 248.6 968.6)"/>
<ellipse cx="249.4" cy="968.8" rx="3.5879999999999996" ry="5.084" fill="#111" stroke="#000" stroke-width="1.0" transform="rotate(-167.8729089650698 249.4 968.8)"/>
<ellipse cx="249.4" cy="968.8" rx="0.9199999999999999" ry="1.2400000000000002" fill="#999" stroke="#999" stroke-width="0.5" transform="rotate(-167.8729089650698 249.4 968.8)"/>
<path d="M276.1,956.7 L263.9,953.9 Q261.3,955.3 263.1,957.7 L275.3,960.5" stroke="#000" stroke-width="1.1" fill="#fff" stroke-linejoin="round" stroke-linecap="round" />
<line x1="265.0" y1="956.1" x2="263.0" y2="955.7" stroke="#111" stroke-width="4.0"/>
<ellipse cx="275.7" cy="958.6" rx="4.6" ry="6.2" fill="#fff" stroke="#000" stroke-width="1.3" transform="rotate(-167.07400087529373 275.7 958.6)"/>
<ellipse cx="276.5" cy="958.8" rx="3.5879999999999996" ry="5.084" fill="#111" stroke="#000" stroke-width="1.0" transform="rotate(-167.07400087529373 276.5 958.8)"/>
<ellipse cx="276.5" cy="958.8" rx="0.9199999999999999" ry="1.2400000000000002" fill="#999" stroke="#999" stroke-width="0.5" transform="rotate(-167.07400087529373 276.5 958.8)"/>
<path d="M95.6,957.5 L107.4,952.6 Q109.0,949.5 105.6,948.4 L93.8,953.1" stroke="#000" stroke-width="1.1" fill="#fff" stroke-linejoin="round" stroke-linecap="round" />
<line x1="105.1" y1="951.1" x2="107.0" y2="950.3" stroke="#111" stroke-width="4.8"/>
<ellipse cx="94.7" cy="955.3" rx="5.0" ry="5.8" fill="#fff" stroke="#000" stroke-width="1.3" transform="rotate(-22.13549187810017 94.7 955.3)"/>
<ellipse cx="94.0" cy="955.6" rx="3.9000000000000004" ry="4.755999999999999" fill="#111" stroke="#000" stroke-width="1.0" transform="rotate(-22.13549187810017 94.0 955.6)"/>
<ellipse cx="94.0" cy="955.6" rx="1.0" ry="1.16" fill="#999" stroke="#999" stroke-width="0.5" transform="rotate(-22.13549187810017 94.0 955.6)"/>
<path d="M318.8,869.4 L307.5,866.4 Q304.8,867.6 306.5,870.0 L317.8,873.2" stroke="#000" stroke-width="1.1" fill="#fff" stroke-linejoin="round" stroke-linecap="round" />
<line x1="308.4" y1="868.6" x2="306.5" y2="868.1" stroke="#111" stroke-width="4.0"/>
<ellipse cx="318.3" cy="871.3" rx="3.8" ry="4.8" fill="#fff" stroke="#000" stroke-width="1.3" transform="rotate(-164.65910923599554 318.3 871.3)"/>
<ellipse cx="319.1" cy="871.5" rx="2.964" ry="3.9359999999999995" fill="#111" stroke="#000" stroke-width="1.0" transform="rotate(-164.65910923599554 319.1 871.5)"/>
<ellipse cx="319.1" cy="871.5" rx="0.76" ry="0.96" fill="#999" stroke="#999" stroke-width="0.5" transform="rotate(-164.65910923599554 319.1 871.5)"/>
<path d="M343.0,1020.1 L332.0,1017.2 Q329.3,1018.4 331.0,1020.8 L342.0,1023.9" stroke="#000" stroke-width="1.1" fill="#fff" stroke-linejoin="round" stroke-linecap="round" />
<line x1="332.9" y1="1019.4" x2="331.0" y2="1018.9" stroke="#111" stroke-width="4.0"/>
<ellipse cx="342.5" cy="1022.0" rx="3.8" ry="5.0" fill="#fff" stroke="#000" stroke-width="1.3" transform="rotate(-164.74488129694222 342.5 1022.0)"/>
<ellipse cx="343.3" cy="1022.2" rx="2.964" ry="4.1" fill="#111" stroke="#000" stroke-width="1.0" transform="rotate(-164.74488129694222 343.3 1022.2)"/>
<ellipse cx="343.3" cy="1022.2" rx="0.76" ry="1.0" fill="#999" stroke="#999" stroke-width="0.5" transform="rotate(-164.74488129694222 343.3 1022.2)"/>
<line x1="342.5" y1="1022" x2="344" y2="1017" stroke="#000" stroke-width="0.8"/>
<path d="M121.6,924.4 L124.4,919.2 L130.2,919.2 L133,924.4 L130.2,929.6 L124.4,929.6 Z" fill="#fff" stroke="#111" stroke-width="1.8"/>
<ellipse cx="127.3" cy="924.4" rx="3.6" ry="3.8" fill="none" stroke="#222" stroke-width="1.3" transform="rotate(0 127.3 924.4)"/>
<ellipse cx="127.6" cy="924.6" rx="1.6" ry="1.8" fill="#666" stroke="#000" stroke-width="0.9" transform="rotate(0 127.6 924.6)"/>
<path d="M125.9,825.5 Q127,821 130.5,821.7 L139.6,822.5 Q144,824 145,828.6 Q147,833 147.2,837.7 Q149,843 152.6,844.6 L161,843.8 Q163,844 163.2,845.3 L166.3,869 Q164,871 161,871.2 L150.3,869.7 L147.2,872.8 Q145,877 142.7,878.1 L135,877.3 Q129,874 128.2,869.7 L125.1,851.4 Z" stroke="#000" stroke-width="1.3" fill="#fff" stroke-linejoin="round" stroke-linecap="round" />
<ellipse cx="130.5" cy="834.7" rx="2.6" ry="4.4" fill="none" stroke="#000" stroke-width="1.1" transform="rotate(0 130.5 834.7)"/>
<ellipse cx="132.8" cy="866.7" rx="2.6" ry="4.4" fill="none" stroke="#000" stroke-width="1.1" transform="rotate(0 132.8 866.7)"/>
<path d="M152.6,845.3 L153,870 M157,845 L158,870" stroke="#000" stroke-width="0.9" fill="none" stroke-linejoin="round" stroke-linecap="round" />
<ellipse cx="157.9" cy="845.3" rx="4" ry="1.6" fill="none" stroke="#000" stroke-width="1.0" transform="rotate(0 157.9 845.3)"/>
<path d="M139.6,822.5 Q143,823 144,827 L146,870" stroke="#000" stroke-width="0.8" fill="none" stroke-linejoin="round" stroke-linecap="round" />
<path d="M139.5,1012.7 Q141,1009.5 144.8,1009.6 L152.4,1011.1 Q156,1012 157.8,1015.7 Q160.5,1022 161.6,1027.9 Q163.5,1033 166.9,1035.5 L170.7,1038.6 L176.8,1037 Q180,1037 180.6,1038.6 L182.9,1061.4 Q180,1063 176.8,1063 L170.7,1062.2 L169.2,1059.9 L163.1,1059.9 Q158,1058 154.7,1056.1 L143.3,1049.2 Q140.5,1045 140.2,1038.6 Z" stroke="#000" stroke-width="1.3" fill="#fff" stroke-linejoin="round" stroke-linecap="round" />
<ellipse cx="144.0" cy="1019.5" rx="2.6" ry="4.4" fill="none" stroke="#000" stroke-width="1.1" transform="rotate(0 144.0 1019.5)"/>
<ellipse cx="144.8" cy="1046.2" rx="2.6" ry="4.4" fill="none" stroke="#000" stroke-width="1.1" transform="rotate(0 144.8 1046.2)"/>
<path d="M170.5,1038.5 L171,1062 M175,1038 L176,1062" stroke="#000" stroke-width="0.9" fill="none" stroke-linejoin="round" stroke-linecap="round" />
<ellipse cx="175.5" cy="1037.8" rx="4" ry="1.6" fill="none" stroke="#000" stroke-width="1.0" transform="rotate(0 175.5 1037.8)"/>
<path d="M152.4,1011.1 Q156,1013 157,1018 L160,1058" stroke="#000" stroke-width="0.8" fill="none" stroke-linejoin="round" stroke-linecap="round" />
<path d="M178.1,796.2 L180.5,794.6 L190.2,793.0 L196.7,793.4 L202.4,795.4 L210.5,794.2 L238.8,784.9 Q243.3,784.9 245.3,788.1 Q247.7,791.3 248.1,797.8 L248.5,804.3 Q248.4,810.8 246.1,814.0 Q243.7,816.8 240.4,818.1 L220.2,825.3 Q216.2,827.8 213.7,830.2 L207.2,838.3 L200.8,847.2 Q198.3,848.8 194.3,848.8 L190.2,849.6 L187.8,850.4 L187.0,842.3 L184.6,828.6 L182.1,827.0 L180.5,825.3 L178.9,804.3 Z" stroke="#000" stroke-width="1.5" fill="#fff" stroke-linejoin="round" stroke-linecap="round" />
<path d="M178.9,797.8 L190.2,796.2 L191.1,825.3 L181.3,826.6 M190.2,796.2 L191.9,795.4 L196.7,795.0 L197.5,848.8 M191.9,795.4 L192.7,825.3" stroke="#000" stroke-width="1.1" fill="none" stroke-linejoin="round" stroke-linecap="round" />
<path d="M185.8,803.5 L191.5,802.7 L193.1,823.7 L187.4,824.5 Z" stroke="#000" stroke-width="1.0" fill="#333" stroke-linejoin="round" stroke-linecap="round" />
<path d="M188.2,806.7 L190.6,806.3 L191.2,818.9 L188.8,819.3 Z" stroke="#000" stroke-width="0.8" fill="#fff" stroke-linejoin="round" stroke-linecap="round" />
<path d="M183.8,827.8 L191.1,827.0 L191.5,848.8 L187.8,849.6 M186.2,828.6 L187.0,848.8" stroke="#000" stroke-width="1.0" fill="none" stroke-linejoin="round" stroke-linecap="round" />
<path d="M198.3,804.3 Q200.0,802.7 204.0,803.9 L210.5,806.7 L210.5,808.3 Q200.8,806.7 200.8,810.8 L201.2,835.9 Q202.0,836.7 204.0,834.3 L212.1,825.3" stroke="#000" stroke-width="1.1" fill="none" stroke-linejoin="round" stroke-linecap="round" />
<path d="M202.4,795.4 L208.9,800.2 L210.5,806.7 M208.9,800.2 L240.4,789.7 Q244.5,788.9 244.5,792.1" stroke="#000" stroke-width="1.0" fill="none" stroke-linejoin="round" stroke-linecap="round" />
<path d="M212.1,795.4 L239.6,786.5" stroke="#000" stroke-width="1.0" fill="none" stroke-linejoin="round" stroke-linecap="round" />
<path d="M213.7,806.7 L241.3,797.4 L243.3,811.6 L217.8,820.5 Z" stroke="#000" stroke-width="1.0" fill="#fff" stroke-linejoin="round" stroke-linecap="round" />
<path d="M215.3,805.9 L242.1,797.0 M218.6,820.5 L242.9,812.4" stroke="#222" stroke-width="1.6" fill="none" stroke-linejoin="round" stroke-linecap="round" />
<path d="M220.2,824.9 L241.3,818.1" stroke="#333" stroke-width="2.2" fill="none" stroke-linejoin="round" stroke-linecap="round" stroke-dasharray="3 1.5"/>
<ellipse cx="212.1" cy="814.0" rx="4.6" ry="5.0" fill="#fff" stroke="#000" stroke-width="1.3"/>
<ellipse cx="210.5" cy="814.4" rx="2.0" ry="2.2" fill="none" stroke="#000" stroke-width="0.9"/>
<ellipse cx="238.8" cy="803.5" rx="4.6" ry="5.0" fill="#fff" stroke="#000" stroke-width="1.3"/>
<ellipse cx="237.2" cy="803.9" rx="2.0" ry="2.2" fill="none" stroke="#000" stroke-width="0.9"/>
<path d="M196.1,988.7 L198.5,987.1 L208.2,985.5 L214.7,985.9 L220.4,987.9 L228.5,986.7 L256.8,977.4 Q261.3,977.4 263.3,980.6 Q265.7,983.8 266.1,990.3 L266.5,996.8 Q266.4,1003.3 264.1,1006.5 Q261.7,1009.3 258.4,1010.6 L238.2,1017.8 Q234.2,1020.3 231.7,1022.7 L225.2,1030.8 L218.8,1039.7 Q216.3,1041.3 212.3,1041.3 L208.2,1042.1 L205.8,1042.9 L205.0,1034.8 L202.6,1021.1 L200.1,1019.5 L198.5,1017.8 L196.9,996.8 Z" stroke="#000" stroke-width="1.5" fill="#fff" stroke-linejoin="round" stroke-linecap="round" />
<path d="M196.9,990.3 L208.2,988.7 L209.1,1017.8 L199.3,1019.1 M208.2,988.7 L209.9,987.9 L214.7,987.5 L215.5,1041.3 M209.9,987.9 L210.7,1017.8" stroke="#000" stroke-width="1.1" fill="none" stroke-linejoin="round" stroke-linecap="round" />
<path d="M203.8,996.0 L209.5,995.2 L211.1,1016.2 L205.4,1017.0 Z" stroke="#000" stroke-width="1.0" fill="#333" stroke-linejoin="round" stroke-linecap="round" />
<path d="M206.2,999.2 L208.6,998.8 L209.2,1011.4 L206.8,1011.8 Z" stroke="#000" stroke-width="0.8" fill="#fff" stroke-linejoin="round" stroke-linecap="round" />
<path d="M201.8,1020.3 L209.1,1019.5 L209.5,1041.3 L205.8,1042.1 M204.2,1021.1 L205.0,1041.3" stroke="#000" stroke-width="1.0" fill="none" stroke-linejoin="round" stroke-linecap="round" />
<path d="M216.3,996.8 Q218.0,995.2 222.0,996.4 L228.5,999.2 L228.5,1000.8 Q218.8,999.2 218.8,1003.3 L219.2,1028.4 Q220.0,1029.2 222.0,1026.8 L230.1,1017.8" stroke="#000" stroke-width="1.1" fill="none" stroke-linejoin="round" stroke-linecap="round" />
<path d="M220.4,987.9 L226.9,992.7 L228.5,999.2 M226.9,992.7 L258.4,982.2 Q262.5,981.4 262.5,984.6" stroke="#000" stroke-width="1.0" fill="none" stroke-linejoin="round" stroke-linecap="round" />
<path d="M230.1,987.9 L257.6,979.0" stroke="#000" stroke-width="1.0" fill="none" stroke-linejoin="round" stroke-linecap="round" />
<path d="M231.7,999.2 L259.3,989.9 L261.3,1004.1 L235.8,1013.0 Z" stroke="#000" stroke-width="1.0" fill="#fff" stroke-linejoin="round" stroke-linecap="round" />
<path d="M233.3,998.4 L260.1,989.5 M236.6,1013.0 L260.9,1004.9" stroke="#222" stroke-width="1.6" fill="none" stroke-linejoin="round" stroke-linecap="round" />
<path d="M238.2,1017.4 L259.3,1010.6" stroke="#333" stroke-width="2.2" fill="none" stroke-linejoin="round" stroke-linecap="round" stroke-dasharray="3 1.5"/>
<ellipse cx="230.1" cy="1006.5" rx="4.6" ry="5.0" fill="#fff" stroke="#000" stroke-width="1.3"/>
<ellipse cx="228.5" cy="1006.9" rx="2.0" ry="2.2" fill="none" stroke="#000" stroke-width="0.9"/>
<ellipse cx="256.8" cy="996.0" rx="4.6" ry="5.0" fill="#fff" stroke="#000" stroke-width="1.3"/>
<ellipse cx="255.2" cy="996.4" rx="2.0" ry="2.2" fill="none" stroke="#000" stroke-width="0.9"/>
<path d="M188.3,863.5 L188.60000000000002,875.5 L196.4,875.5 L196.8,863.5" stroke="#000" stroke-width="1.2" fill="#fff" stroke-linejoin="round" stroke-linecap="round" />
<ellipse cx="192.6" cy="863.5" rx="4.25" ry="1.8" fill="#fff" stroke="#000" stroke-width="1.1" transform="rotate(0 192.6 863.5)"/>
<path d="M190.8,865.5 L191.0,874.5 M194.10000000000002,865.5 L194.10000000000002,874.5" stroke="#000" stroke-width="0.7" fill="none" stroke-linejoin="round" stroke-linecap="round" />
<path d="M186.3,876.5 Q192.55,874.0 198.8,876.5 L198.8,878.5 Q192.55,881.5 186.3,878.5 Z" stroke="#000" stroke-width="1.3" fill="#444" stroke-linejoin="round" stroke-linecap="round" />
<path d="M188.3,876.7 Q192.55,875.3 196.8,876.7" stroke="#ccc" stroke-width="0.8" fill="none" stroke-linejoin="round" stroke-linecap="round" />
<path d="M205.5,1056.5 L205.8,1068.5 L213.6,1068.5 L214,1056.5" stroke="#000" stroke-width="1.2" fill="#fff" stroke-linejoin="round" stroke-linecap="round" />
<ellipse cx="209.8" cy="1056.5" rx="4.25" ry="1.8" fill="#fff" stroke="#000" stroke-width="1.1" transform="rotate(0 209.8 1056.5)"/>
<path d="M208,1058.5 L208.2,1067.5 M211.3,1058.5 L211.3,1067.5" stroke="#000" stroke-width="0.7" fill="none" stroke-linejoin="round" stroke-linecap="round" />
<path d="M203.5,1069.5 Q209.75,1067.0 216,1069.5 L216,1071.5 Q209.75,1074.5 203.5,1071.5 Z" stroke="#000" stroke-width="1.3" fill="#444" stroke-linejoin="round" stroke-linecap="round" />
<path d="M205.5,1069.7 Q209.75,1068.3 214,1069.7" stroke="#ccc" stroke-width="0.8" fill="none" stroke-linejoin="round" stroke-linecap="round" />
<path d="M177.6,917.6 Q177.8,916.2 179.9,916.4 L186.7,916.7 Q188.4,917.0 188.4,918.7 L189.6,926.7 L190.1,943.9 Q189.9,946.1 187.3,946.1 L181.0,945.9 Q179.3,945.6 179.3,943.9 L178.7,926.7 Z" stroke="#000" stroke-width="1.4" fill="#fff" stroke-linejoin="round" stroke-linecap="round" />
<path d="M178.1,926.1 L189.6,926.7 M181.0,926.9 L181.2,945.6 M187.9,926.9 L188.1,945.6" stroke="#000" stroke-width="1.0" fill="none" stroke-linejoin="round" stroke-linecap="round" />
<path d="M179.9,918.1 L186.1,918.5 L186.7,925.6 L180.4,925.3 Z" stroke="#000" stroke-width="0.9" fill="none" stroke-linejoin="round" stroke-linecap="round" />
<path d="M165.0,928.4 L179.3,927.3 L179.6,942.7 L165.0,943.9 Z" stroke="#000" stroke-width="1.2" fill="#fff" stroke-linejoin="round" stroke-linecap="round" />
<path d="M165.6,932.4 L179.3,931.3 M165.6,935.9 L179.4,934.9 M165.6,939.3 L179.5,938.4" stroke="#333" stroke-width="1.6" fill="none" stroke-linejoin="round" stroke-linecap="round" stroke-dasharray="8 5"/>
<path d="M141.6,919.9 Q142.7,914.7 149.0,914.7 L159.3,914.7 Q163.3,915.3 163.9,921.0 L165.0,939.3 L165.6,958.7 Q165.0,968.4 158.1,969.0 L150.1,969.0 Q144.4,968.4 143.9,962.1 L142.1,953.0 L141.0,933.6 Z" stroke="#000" stroke-width="1.6" fill="#fff" stroke-linejoin="round" stroke-linecap="round" />
<path d="M141.0,933.6 L165.0,933.6 M142.1,953.0 L165.6,953.0 M144.4,933.6 L145.0,953.0 M160.4,933.6 L161.0,953.0" stroke="#000" stroke-width="1.1" fill="none" stroke-linejoin="round" stroke-linecap="round" />
<path d="M143.9,935.9 L153.6,935.3 L154.7,942.7 L153.6,950.1 L144.4,950.7 Z" stroke="#000" stroke-width="1.0" fill="#fff" stroke-linejoin="round" stroke-linecap="round" />
<path d="M149.0,935.9 L158.1,935.3 L159.3,950.7 L149.0,951.3 Z" stroke="#000" stroke-width="1.1" fill="#222" stroke-linejoin="round" stroke-linecap="round" />
<path d="M150.7,941.6 L155.9,941.3 L156.4,949.6 L151.1,949.8 Z" stroke="#000" stroke-width="0.9" fill="#fff" stroke-linejoin="round" stroke-linecap="round" />
<circle cx="149.0" cy="925.6" r="5.5" fill="#fff" stroke="#000" stroke-width="1.4"/>
<circle cx="149.0" cy="925.6" r="3.0" fill="#444" stroke="#000" stroke-width="1"/>
<circle cx="149.0" cy="925.6" r="1.4" fill="#fff" stroke="none"/>
<circle cx="153.6" cy="961.6" r="5.7" fill="#fff" stroke="#000" stroke-width="1.4"/>
<circle cx="153.6" cy="961.6" r="3.1" fill="#444" stroke="#000" stroke-width="1"/>
<circle cx="153.6" cy="961.6" r="1.4" fill="#fff" stroke="none"/>
<path d="M142.7,919.9 L144.4,916.4 M158.1,915.9 L162.7,921.0 M143.9,958.7 L145.6,965.6 M162.7,958.7 L163.9,964.4" stroke="#222" stroke-width="1.6" fill="none" stroke-linejoin="round" stroke-linecap="round" />
<path d="M153.6,917.6 L159.3,916.4 L160.4,922.1 M155.9,930.1 L162.7,929.0" stroke="#222" stroke-width="1.2" fill="none" stroke-linejoin="round" stroke-linecap="round" />
<path d="M125.0,942.7 Q125.6,937.0 131.9,937.0 L142.7,938.1 L143.3,955.3 L134.1,955.3 Q126.1,954.1 125.0,947.3 Z" stroke="#000" stroke-width="1.4" fill="#fff" stroke-linejoin="round" stroke-linecap="round" />
<circle cx="130.7" cy="946.1" r="2.4" fill="#fff" stroke="#000" stroke-width="1.1"/>
<path d="M134.1,939.3 L142.1,939.3 M135.3,954.1 L142.7,953.6" stroke="#000" stroke-width="1.0" fill="none" stroke-linejoin="round" stroke-linecap="round" />
<ellipse cx="313.5" cy="889.3" rx="5.2" ry="5.4" fill="#fff" stroke="#000" stroke-width="1.4" transform="rotate(0 313.5 889.3)"/>
<ellipse cx="313.7" cy="889.6" rx="2.6" ry="2.8" fill="none" stroke="#000" stroke-width="1.1" transform="rotate(0 313.7 889.6)"/>
<ellipse cx="316.3" cy="924.7" rx="5.2" ry="5.4" fill="#fff" stroke="#000" stroke-width="1.4" transform="rotate(0 316.3 924.7)"/>
<ellipse cx="316.5" cy="925.0" rx="2.6" ry="2.8" fill="none" stroke="#000" stroke-width="1.1" transform="rotate(0 316.5 925.0)"/>
<path d="M315.5,894.5 L319,898.5 L318.5,917 L316.5,919.5 M318,894 L321.5,898 L321,917.5 L319,920" stroke="#000" stroke-width="1.2" fill="none" stroke-linejoin="round" stroke-linecap="round" />
<path d="M301.7,990 L308.3,988.7 L333.7,982.7 L334,977 Q334.5,973 337,973.5 Q339.5,974 339,978.7 L375,982 Q381,982 381.7,984.7 L383,1001.3 Q381,1003.5 377.7,1003.3 L364.3,1002.7 L348.3,997.3 L335,998.7 L313.7,1004 L305.7,1007.3 Q302,1007 301.7,1005.3 Z" stroke="#000" stroke-width="1.3" fill="#fff" stroke-linejoin="round" stroke-linecap="round" />
<path d="M339,978.7 Q342,986 364,988.5 L377.5,988 Q381.5,986 381.7,984.7" stroke="#000" stroke-width="1.0" fill="none" stroke-linejoin="round" stroke-linecap="round" />
<path d="M308.6,989 L309,1006 M314.5,988 L315,1004.5 M333.7,982.7 L335,998.7 M349,984 L348.3,997.3 M364.3,988.5 L364.3,1002.7" stroke="#000" stroke-width="0.9" fill="none" stroke-linejoin="round" stroke-linecap="round" />
<path d="M303,990.5 Q306,988.5 309,989" stroke="#000" stroke-width="1.0" fill="none" stroke-linejoin="round" stroke-linecap="round" />
<path d="M374,983.5 Q379,982 381,985.5 Q379,988 375,988" stroke="#000" stroke-width="0.9" fill="none" stroke-linejoin="round" stroke-linecap="round" />
<ellipse cx="336.2" cy="976.8" rx="4.0" ry="3.8" fill="#fff" stroke="#000" stroke-width="1.3" transform="rotate(0 336.2 976.8)"/>
<ellipse cx="336.4" cy="977.0" rx="1.8" ry="1.7" fill="none" stroke="#000" stroke-width="0.9" transform="rotate(0 336.4 977.0)"/>
<path d="M243.1,1037 L254.5,1033.2 L257.6,1049.2 L275.9,1044.7 L269,1032.5 Q268.5,1028.5 271.3,1027.9 Q276,1027 277.4,1028.7 L281.9,1044.7 Q282,1050 278.9,1052.3 L271.3,1055.3 L246.9,1063 Q244.5,1062 244.6,1059.9 Z" stroke="#000" stroke-width="1.3" fill="#fff" stroke-linejoin="round" stroke-linecap="round" />
<path d="M258,1047 L276,1042" stroke="#000" stroke-width="0.9" fill="none" stroke-linejoin="round" stroke-linecap="round" stroke-dasharray="2 1"/>
<ellipse cx="248.0" cy="1042.0" rx="1.3" ry="1.6" fill="none" stroke="#000" stroke-width="0.9" transform="rotate(0 248.0 1042.0)"/>
<ellipse cx="249.0" cy="1052.0" rx="1.3" ry="1.6" fill="none" stroke="#000" stroke-width="0.9" transform="rotate(0 249.0 1052.0)"/>
<ellipse cx="273.0" cy="1031.0" rx="1.6" ry="1.8" fill="none" stroke="#000" stroke-width="0.9" transform="rotate(0 273.0 1031.0)"/>
<path d="M693.45,129.80 L693.45,113.91 L688.69,116.51 L688.42,114.61 L695.20,110.91 L695.50,110.91 L695.50,129.80 Z" fill="#111" stroke="none"/>
<text x="899.05" y="368.8" font-size="27.5">2</text>
<text x="936.35" y="421.8" font-size="27.5">3</text>
<text x="997.85" y="436.8" font-size="27.5">4</text>
<text x="891.85" y="574.8" font-size="27.5">5</text>
<text x="960.85" y="571.8" font-size="27.5">3</text>
<path d="M232.80,730.80 L232.80,714.91 L228.04,717.51 L227.77,715.61 L234.55,711.91 L234.85,711.91 L234.85,730.80 Z" fill="#111" stroke="none"/>
<text x="241.00" y="730.8" font-size="27.5">3</text>
<path d="M120.30,760.80 L120.30,744.91 L115.54,747.51 L115.27,745.61 L122.05,741.91 L122.35,741.91 L122.35,760.80 Z" fill="#111" stroke="none"/>
<text x="128.50" y="760.8" font-size="27.5">0</text>
<text x="286.21" y="800.8" font-size="27.5">2</text>
<text x="301.50" y="800.8" font-size="27.5">0</text>
<path d="M64.80,840.80 L64.80,824.91 L60.04,827.51 L59.77,825.61 L66.55,821.91 L66.85,821.91 L66.85,840.80 Z" fill="#111" stroke="none"/>
<text x="73.00" y="840.8" font-size="27.5">9</text>
<text x="229.35" y="873.8" font-size="27.5">9</text>
<path d="M331.80,840.80 L331.80,824.91 L327.04,827.51 L326.77,825.61 L333.55,821.91 L333.85,821.91 L333.85,840.80 Z" fill="#111" stroke="none"/>
<text x="340.00" y="840.8" font-size="27.5">8</text>
<path d="M68.80,894.80 L68.80,878.91 L64.04,881.51 L63.77,879.61 L70.55,875.91 L70.85,875.91 L70.85,894.80 Z" fill="#111" stroke="none"/>
<text x="77.00" y="894.8" font-size="27.5">0</text>
<path d="M34.80,934.80 L34.80,918.91 L30.04,921.51 L29.77,919.61 L36.55,915.91 L36.85,915.91 L36.85,934.80 Z" fill="#111" stroke="none"/>
<text x="43.00" y="934.8" font-size="27.5">7</text>
<path d="M213.30,926.80 L213.30,910.91 L208.54,913.51 L208.27,911.61 L215.05,907.91 L215.35,907.91 L215.35,926.80 Z" fill="#111" stroke="none"/>
<text x="221.50" y="926.8" font-size="27.5">6</text>
<path d="M353.30,916.80 L353.30,900.91 L348.54,903.51 L348.27,901.61 L355.05,897.91 L355.35,897.91 L355.35,916.80 Z" fill="#111" stroke="none"/>
<text x="361.50" y="916.8" font-size="27.5">4</text>
<path d="M40.30,986.80 L40.30,970.91 L35.54,973.51 L35.27,971.61 L42.05,967.91 L42.35,967.91 L42.35,986.80 Z" fill="#111" stroke="none"/>
<text x="48.50" y="986.8" font-size="27.5">5</text>
<path d="M260.30,929.80 L260.30,913.91 L255.54,916.51 L255.27,914.61 L262.05,910.91 L262.35,910.91 L262.35,929.80 Z" fill="#111" stroke="none"/>
<text x="268.50" y="929.8" font-size="27.5">3</text>
<path d="M308.80,964.80 L308.80,948.91 L304.04,951.51 L303.77,949.61 L310.55,945.91 L310.85,945.91 L310.85,964.80 Z" fill="#111" stroke="none"/>
<path d="M324.10,964.80 L324.10,948.91 L319.34,951.51 L319.06,949.61 L325.85,945.91 L326.15,945.91 L326.15,964.80 Z" fill="#111" stroke="none"/>
<path d="M71.80,1020.80 L71.80,1004.91 L67.04,1007.51 L66.77,1005.61 L73.55,1001.91 L73.85,1001.91 L73.85,1020.80 Z" fill="#111" stroke="none"/>
<text x="80.00" y="1020.8" font-size="27.5">0</text>
<text x="394.85" y="1055.8" font-size="27.5">6</text>
<text x="335.85" y="1077.8" font-size="27.5">7</text>
<path d="M71.80,1077.80 L71.80,1061.91 L67.04,1064.51 L66.77,1062.61 L73.55,1058.91 L73.85,1058.91 L73.85,1077.80 Z" fill="#111" stroke="none"/>
<text x="80.00" y="1077.8" font-size="27.5">2</text>
<text x="272.35" y="1114.8" font-size="27.5">8</text>
<text x="196.35" y="1124.8" font-size="27.5">9</text>
<path d="M127.50,1134.80 L127.50,1118.91 L122.74,1121.51 L122.47,1119.61 L129.25,1115.91 L129.55,1115.91 L129.55,1134.80 Z" fill="#111" stroke="none"/>
<text x="135.70" y="1134.8" font-size="27.5">0</text>
<line x1="693.8" y1="136" x2="692.7" y2="180" stroke="#222" stroke-width="1.1"/>
<line x1="844.8" y1="371.4" x2="888.6" y2="362.9" stroke="#222" stroke-width="1.1"/>
<line x1="935.7" y1="427.7" x2="925.5" y2="448" stroke="#222" stroke-width="1.1"/>
<line x1="992.2" y1="440.2" x2="975.7" y2="455.9" stroke="#222" stroke-width="1.1"/>
<line x1="904.3" y1="498.3" x2="900.4" y2="547" stroke="#222" stroke-width="1.1"/>
<line x1="938.8" y1="528.9" x2="956.1" y2="548.5" stroke="#222" stroke-width="1.1"/>
<line x1="237.1" y1="740" x2="227.1" y2="770" stroke="#222" stroke-width="1.1"/>
<line x1="245.7" y1="740" x2="252.9" y2="761.4" stroke="#222" stroke-width="1.1"/>
<line x1="128" y1="770" x2="127" y2="802.9" stroke="#222" stroke-width="1.1"/>
<line x1="90" y1="836.6" x2="125.7" y2="850" stroke="#222" stroke-width="1.1"/>
<line x1="248.6" y1="798.6" x2="284.3" y2="792.9" stroke="#222" stroke-width="1.1"/>
<line x1="197" y1="872.9" x2="218.6" y2="868.6" stroke="#222" stroke-width="1.1"/>
<line x1="94.3" y1="890" x2="120" y2="897.1" stroke="#222" stroke-width="1.1"/>
<line x1="61.4" y1="924.3" x2="121.4" y2="922.3" stroke="#222" stroke-width="1.1"/>
<line x1="190" y1="930" x2="204.3" y2="924.3" stroke="#222" stroke-width="1.1"/>
<line x1="65.7" y1="968.6" x2="90" y2="957" stroke="#222" stroke-width="1.1"/>
<line x1="258.6" y1="934.9" x2="240" y2="962.9" stroke="#222" stroke-width="1.1"/>
<line x1="268" y1="937.7" x2="268.6" y2="955.7" stroke="#222" stroke-width="1.1"/>
<line x1="301.4" y1="967" x2="267" y2="990.9" stroke="#222" stroke-width="1.1"/>
<line x1="97" y1="1007" x2="125.7" y2="1000" stroke="#222" stroke-width="1.1"/>
<line x1="95.7" y1="1060" x2="138.6" y2="1040" stroke="#222" stroke-width="1.1"/>
<line x1="155.7" y1="1080" x2="142.9" y2="1108.6" stroke="#222" stroke-width="1.1"/>
<line x1="208.6" y1="1072.9" x2="205.7" y2="1097" stroke="#222" stroke-width="1.1"/>
<line x1="264.3" y1="1060" x2="274.3" y2="1088.6" stroke="#222" stroke-width="1.1"/>
<line x1="341.7" y1="1025.3" x2="342.8" y2="1050.3" stroke="#222" stroke-width="1.1"/>
<line x1="379.2" y1="1003.7" x2="394" y2="1031" stroke="#222" stroke-width="1.1"/>
<line x1="330.3" y1="846.7" x2="316.7" y2="868.3" stroke="#222" stroke-width="1.1"/>
<line x1="321.2" y1="907" x2="342.8" y2="907" stroke="#222" stroke-width="1.1"/>
</svg></body></html>
